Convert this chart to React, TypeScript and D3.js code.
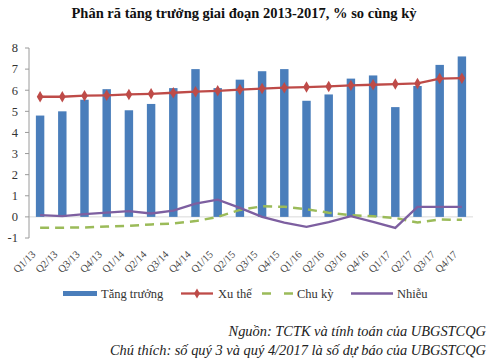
import React from "react";
import * as d3 from "d3";

const quarters = [
  "Q1/13", "Q2/13", "Q3/13", "Q4/13", "Q1/14", "Q2/14", "Q3/14", "Q4/14",
  "Q1/15", "Q2/15", "Q3/15", "Q4/15", "Q1/16", "Q2/16", "Q3/16", "Q4/16",
  "Q1/17", "Q2/17", "Q3/17", "Q4/17",
];
const growth = [4.8, 5.0, 5.55, 6.05, 5.05, 5.35, 6.1, 7.0, 6.1, 6.5, 6.9, 7.0, 5.5, 5.8, 6.55, 6.7, 5.2, 6.2, 7.2, 7.6];
const trend = [5.69, 5.69, 5.74, 5.76, 5.8, 5.83, 5.88, 5.93, 5.97, 6.03, 6.08, 6.12, 6.15, 6.18, 6.23, 6.26, 6.29, 6.32, 6.55, 6.57];
const cycle = [-0.52, -0.51, -0.5, -0.46, -0.42, -0.36, -0.31, -0.2, 0.0, 0.33, 0.5, 0.48, 0.36, 0.2, 0.08, 0.03, -0.05, -0.27, -0.12, -0.14];
const noise = [0.08, 0.04, 0.13, 0.2, 0.27, 0.16, 0.3, 0.63, 0.82, 0.43, 0.0, -0.27, -0.47, -0.25, 0.03, -0.24, -0.52, 0.47, 0.47, 0.47];
const yTicks = [-1, 0, 1, 2, 3, 4, 5, 6, 7, 8];

const BLUE = "#4a7ebb";
const RED = "#be4b48";
const GREEN = "#9bbb59";
const PURPLE = "#7d5fa0";
const FONT = "'Liberation Serif', 'Times New Roman', serif";

const PLOT = { left: 29, right: 473, top: 48, bottom: 238 };

export default function App() {
  const x = d3.scaleBand<string>().domain(quarters).range([PLOT.left, PLOT.right]).paddingInner(0.62).paddingOuter(0.31);
  const y = d3.scaleLinear().domain([-1, 8]).range([PLOT.bottom, PLOT.top]);
  const cx = (i: number) => (x(quarters[i]) as number) + x.bandwidth() / 2;
  const line = d3.line<number>().x((_, i) => cx(i)).y((d) => y(d));

  return (
    <svg width={500} height={362} style={{ position: "absolute", left: 0, top: 0, background: "#fff" }} fontFamily={FONT}>
      <text x={244} y={18} textAnchor="middle" fontSize={14.5} fontWeight="bold" fill="#111">
        Phân rã tăng trưởng giai đoạn 2013-2017, % so cùng kỳ
      </text>

      {/* zero line */}
      <line x1={PLOT.left} x2={PLOT.right} y1={y(0)} y2={y(0)} stroke="#d9d9d9" strokeWidth={1} />

      {/* y axis */}
      <line x1={PLOT.left} x2={PLOT.left} y1={PLOT.top} y2={PLOT.bottom} stroke="#9a9a9a" />
      {yTicks.map((t) => (
        <g key={t}>
          <line x1={PLOT.left - 4} x2={PLOT.left} y1={y(t)} y2={y(t)} stroke="#9a9a9a" />
          <text x={18} y={y(t)} dy="0.35em" textAnchor="end" fontSize={12.5} fill="#333">
            {t}
          </text>
        </g>
      ))}

      {/* bars */}
      {growth.map((v, i) => (
        <rect key={i} x={x(quarters[i])} width={x.bandwidth()} y={y(v)} height={y(0) - y(v)} fill={BLUE} />
      ))}

      <path d={line(cycle) ?? ""} fill="none" stroke={GREEN} strokeWidth={2.5} strokeDasharray="9,6" />
      <path d={line(noise) ?? ""} fill="none" stroke={PURPLE} strokeWidth={2.3} />
      <path d={line(trend) ?? ""} fill="none" stroke={RED} strokeWidth={2.3} />
      {trend.map((v, i) => (
        <path key={i} d={d3.symbol(d3.symbolDiamond, 38)() ?? ""} transform={`translate(${cx(i)},${y(v)})`} fill={RED} />
      ))}

      {/* x labels */}
      {quarters.map((q, i) => (
        <text key={q} transform={`translate(${cx(i) - 4},${PLOT.bottom + 17}) rotate(-45)`} textAnchor="end" fontSize={10.5} fill="#444">
          {q}
        </text>
      ))}

      {/* legend */}
      <g fontSize={12.5} fill="#333">
        <rect x={63} y={291} width={34} height={5} fill={BLUE} />
        <text x={101} y={293.5} dy="0.35em">Tăng trưởng</text>
        <line x1={181} x2={213} y1={293.5} y2={293.5} stroke={RED} strokeWidth={2.3} />
        <path d={d3.symbol(d3.symbolDiamond, 30)() ?? ""} transform="translate(197,293.5)" fill={RED} />
        <text x={218} y={293.5} dy="0.35em">Xu thế</text>
        <line x1={262} x2={293} y1={293.5} y2={293.5} stroke={GREEN} strokeWidth={2.5} strokeDasharray="9,13" />
        <text x={297} y={293.5} dy="0.35em">Chu kỳ</text>
        <line x1={351} x2={393} y1={293.5} y2={293.5} stroke={PURPLE} strokeWidth={2.3} />
        <text x={397} y={293.5} dy="0.35em">Nhiễu</text>
      </g>

      {/* footer */}
      <g fontSize={14.4} fontStyle="italic" fill="#222" textAnchor="end">
        <text x={486} y={336}>Nguồn: TCTK và tính toán của UBGSTCQG</text>
        <text x={486} y={355}>Chú thích: số quý 3 và quý 4/2017 là số dự báo của UBGSTCQG</text>
      </g>
    </svg>
  );
}
